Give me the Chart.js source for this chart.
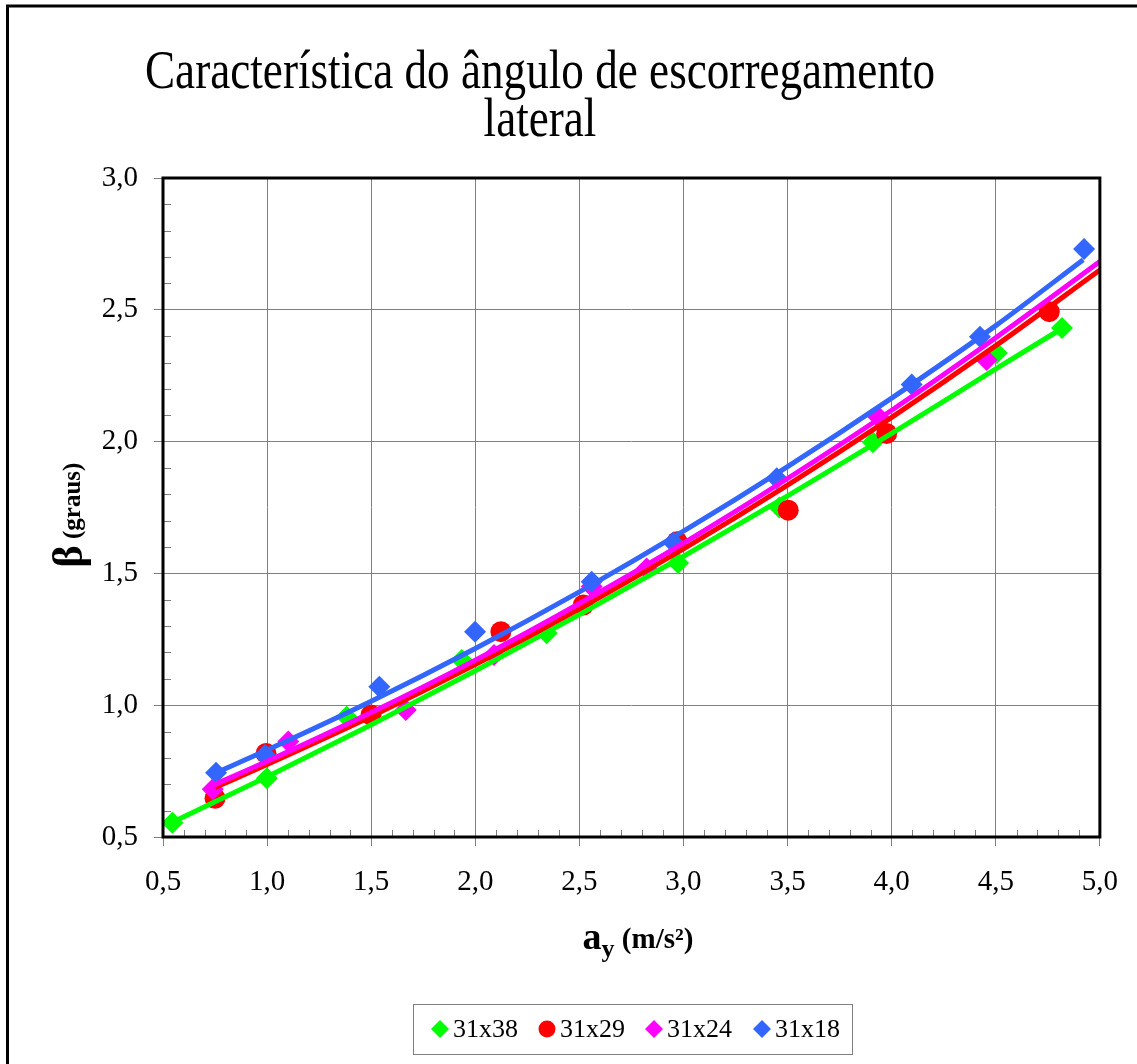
<!DOCTYPE html>
<html lang="pt">
<head>
<meta charset="utf-8">
<title>Característica do ângulo de escorregamento lateral</title>
<script src="https://cdn.jsdelivr.net/npm/chart.js@4.4.1/dist/chart.umd.min.js"></script>
<style>
	html, body { margin: 0; padding: 0; background: #fff; }
	canvas { display: block; }
</style>
</head>
<body>
<canvas id="betaChart" width="1137" height="1064"></canvas>
<script>
// Séries: aceleração lateral a_y (m/s²) x ângulo de escorregamento β (graus)
const seriesNames = ["31x38", "31x29", "31x24", "31x18"];
const seriesColors = ["#00ff00", "#ff0000", "#ff00ff", "#3366ff"];
const seriesMarkers = ["rectRot", "circle", "rectRot", "rectRot"];

// Pontos medidos
const ay3138 = [0.545, 0.999, 1.382, 1.935, 2.343, 2.974, 3.46, 3.91, 4.505, 4.818];
const beta3138 = [0.554, 0.723, 0.956, 1.171, 1.273, 1.539, 1.75, 1.998, 2.336, 2.431];
const ay3129 = [0.75, 0.995, 1.499, 2.123, 2.519, 2.969, 3.503, 3.976, 4.757];
const beta3129 = [0.647, 0.817, 0.963, 1.279, 1.38, 1.62, 1.74, 2.031, 2.493];
const ay3124 = [0.739, 1.102, 1.666, 2.09, 2.559, 2.823, 3.935, 4.456];
const beta3124 = [0.681, 0.862, 0.982, 1.19, 1.45, 1.519, 2.094, 2.31];
const ay3118 = [0.755, 0.99, 1.539, 1.999, 2.559, 2.951, 3.448, 4.096, 4.424, 4.924];
const beta3118 = [0.744, 0.811, 1.07, 1.279, 1.468, 1.617, 1.861, 2.217, 2.398, 2.731];

// Linhas de tendência
const trendX3138 = [0.55, 1.0, 1.5, 2.0, 2.5, 3.0, 3.5, 4.0, 4.5, 4.82];
const trendY3138 = [0.558, 0.729, 0.926, 1.131, 1.344, 1.565, 1.794, 2.031, 2.276, 2.43];
const trendX3129 = [0.75, 1.0, 1.5, 2.0, 2.5, 3.0, 3.5, 4.0, 4.5, 5.0];
const trendY3129 = [0.688, 0.775, 0.957, 1.154, 1.366, 1.593, 1.835, 2.092, 2.364, 2.651];
const trendX3124 = [0.74, 1.0, 1.5, 2.0, 2.5, 3.0, 3.5, 4.0, 4.5, 5.0];
const trendY3124 = [0.696, 0.787, 0.972, 1.171, 1.386, 1.615, 1.86, 2.119, 2.394, 2.683];
const trendX3118 = [0.755, 1.0, 1.5, 2.0, 2.5, 3.0, 3.5, 4.0, 4.5, 4.92];
const trendY3118 = [0.744, 0.83, 1.015, 1.215, 1.43, 1.66, 1.905, 2.165, 2.44, 2.69];

// Marcas dos eixos
const xTickValues = [0.5, 1.0, 1.5, 2.0, 2.5, 3.0, 3.5, 4.0, 4.5, 5.0];
const yTickValues = [0.5, 1.0, 1.5, 2.0, 2.5, 3.0];

const titleLines = ["Característica do ângulo de escorregamento", "lateral"];

const SERIF = "'Liberation Serif', 'Times New Roman', serif";

const toPoints = (xs, ys) => xs.map((x, i) => ({ x: x, y: ys[i] }));
const fmt = (v) => v.toFixed(1).replace(".", ",");

const measured = [[ay3138, beta3138], [ay3129, beta3129], [ay3124, beta3124], [ay3118, beta3118]];
const trends = [[trendX3138, trendY3138], [trendX3129, trendY3129], [trendX3124, trendY3124], [trendX3118, trendY3118]];

const datasets = [];
measured.forEach((s, i) => {
	datasets.push({
		label: seriesNames[i],
		data: toPoints(s[0], s[1]),
		showLine: false,
		pointStyle: seriesMarkers[i],
		pointRadius: seriesMarkers[i] === "circle" ? 10.5 : 11,
		backgroundColor: seriesColors[i],
		borderColor: seriesColors[i],
		borderWidth: 0,
		order: 10 - i,
	});
});
trends.forEach((s, i) => {
	datasets.push({
		label: seriesNames[i] + " tendência",
		data: toPoints(s[0], s[1]),
		showLine: true,
		pointRadius: 0,
		borderColor: seriesColors[i],
		borderWidth: 5,
		cubicInterpolationMode: "monotone",
		fill: false,
		order: 4 - i,
	});
});

// Desenho: título, moldura, marcas secundárias, títulos dos eixos e legenda
const decorPlugin = {
	id: "decor",
	beforeDatasetsDraw(chart) {
		const { ctx, chartArea: a, scales } = chart;
		ctx.save();
		ctx.strokeStyle = "#808080";
		ctx.lineWidth = 1;
		ctx.beginPath();
		for (let i = 6; i < 50; i++) {
			if (i % 5 === 0) continue;
			const px = Math.round(scales.x.getPixelForValue(i / 10)) + 0.5;
			ctx.moveTo(px, a.bottom);
			ctx.lineTo(px, a.bottom - 7);
		}
		for (let i = 6; i < 30; i++) {
			if (i % 5 === 0) continue;
			const py = Math.round(scales.y.getPixelForValue(i / 10)) + 0.5;
			ctx.moveTo(a.left, py);
			ctx.lineTo(a.left + 8, py);
		}
		ctx.stroke();
		ctx.restore();
	},
	afterDraw(chart) {
		const { ctx, chartArea: a } = chart;
		ctx.save();

		// moldura da área do gráfico
		ctx.strokeStyle = "#000";
		ctx.lineWidth = 3;
		ctx.strokeRect(a.left, a.top, a.right - a.left, a.bottom - a.top);

		// moldura externa
		ctx.lineWidth = 3;
		ctx.beginPath();
		ctx.moveTo(7.5, 1064);
		ctx.lineTo(7.5, 6);
		ctx.lineTo(1137, 6);
		ctx.stroke();

		// título
		ctx.fillStyle = "#000";
		ctx.font = "54px " + SERIF;
		ctx.textAlign = "center";
		ctx.textBaseline = "alphabetic";
		const sx = 790 / ctx.measureText(titleLines[0]).width;
		ctx.save();
		ctx.translate(540, 0);
		ctx.scale(sx, 1);
		ctx.fillText(titleLines[0], 0, 88);
		ctx.fillText(titleLines[1], 0, 136);
		ctx.restore();

		// título do eixo x: a_y (m/s²)
		ctx.textAlign = "left";
		const fa = "bold 38px " + SERIF, fy = "bold 26px " + SERIF, fu = "bold 29px " + SERIF;
		ctx.font = fa; const wa = ctx.measureText("a").width;
		ctx.font = fy; const wy = ctx.measureText("y").width;
		ctx.font = fu; const wu = ctx.measureText(" (m/s²)").width;
		let x0 = 638 - (wa + wy + wu) / 2;
		ctx.font = fa; ctx.fillText("a", x0, 949);
		ctx.font = fy; ctx.fillText("y", x0 + wa, 957);
		ctx.font = fu; ctx.fillText(" (m/s²)", x0 + wa + wy, 948);

		// título do eixo y: β (graus)
		ctx.save();
		ctx.translate(82, 515);
		ctx.rotate(-Math.PI / 2);
		const fb = "bold 42px " + SERIF, fg = "bold 25px " + SERIF;
		ctx.font = fb; const wb = ctx.measureText("β").width;
		ctx.font = fg; const wg = ctx.measureText(" (graus)").width;
		let t0 = -(wb + wg) / 2;
		ctx.font = fb; ctx.fillText("β", t0, 0);
		ctx.font = fg; ctx.fillText(" (graus)", t0 + wb, -2);
		ctx.restore();

		// legenda
		ctx.strokeStyle = "#808080";
		ctx.lineWidth = 1;
		ctx.strokeRect(413.5, 1004.5, 439, 50);
		const markX = [440, 547, 654, 762];
		ctx.font = "26px " + SERIF;
		ctx.textBaseline = "middle";
		seriesNames.forEach((name, i) => {
			const mx = markX[i], my = 1029;
			ctx.fillStyle = seriesColors[i];
			ctx.beginPath();
			if (seriesMarkers[i] === "circle") {
				ctx.arc(mx, my, 8.5, 0, Math.PI * 2);
			} else {
				ctx.moveTo(mx, my - 9);
				ctx.lineTo(mx + 9, my);
				ctx.lineTo(mx, my + 9);
				ctx.lineTo(mx - 9, my);
				ctx.closePath();
			}
			ctx.fill();
			ctx.fillStyle = "#000";
			ctx.fillText(name, mx + 13, my + 1);
		});

		ctx.restore();
	},
};

const ctx = document.getElementById("betaChart").getContext("2d");
new Chart(ctx, {
	type: "scatter",
	data: { datasets: datasets },
	options: {
		responsive: false,
		animation: false,
		layout: { padding: { top: 178, right: 37, left: 0, bottom: 0 } },
		plugins: {
			legend: { display: false },
			tooltip: { enabled: false },
			title: { display: false },
		},
		scales: {
			x: {
				type: "linear",
				min: 0.5,
				max: 5.0,
				afterBuildTicks: (s) => { s.ticks = xTickValues.map((v) => ({ value: v })); },
				afterFit: (s) => { s.height = 227; },
				ticks: {
					callback: (v) => fmt(v),
					font: { family: SERIF, size: 29 },
					color: "#000",
					padding: 19,
					maxRotation: 0,
					autoSkip: false,
				},
				grid: { color: "#808080", lineWidth: 1, tickLength: 9, tickColor: "#808080" },
				border: { display: false },
			},
			y: {
				type: "linear",
				min: 0.5,
				max: 3.0,
				afterBuildTicks: (s) => { s.ticks = yTickValues.map((v) => ({ value: v })); },
				afterFit: (s) => { s.width = 163; },
				ticks: {
					callback: (v) => fmt(v),
					font: { family: SERIF, size: 29 },
					color: "#000",
					padding: 16,
					autoSkip: false,
				},
				grid: { color: "#808080", lineWidth: 1, tickLength: 9, tickColor: "#808080" },
				border: { display: false },
			},
		},
	},
	plugins: [decorPlugin],
});
</script>
</body>
</html>
